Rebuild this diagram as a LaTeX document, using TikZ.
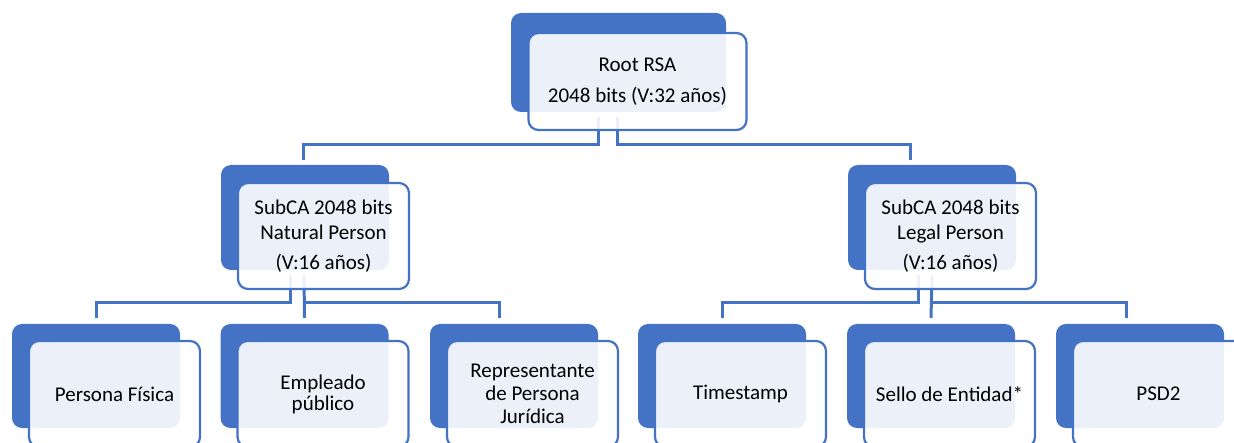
\documentclass[tikz,border=0pt]{standalone}
\usepackage{fontspec}
\setmainfont{Carlito}
\definecolor{cablue}{HTML}{4472C4}
\tikzset{
  backbox/.style={rectangle, rounded corners=10pt, fill=cablue, draw=none, inner sep=0pt},
  frontbox/.style={rectangle, rounded corners=10pt, draw=cablue, line width=2.2pt, fill=white, fill opacity=0.9, text opacity=1, draw opacity=1, inner sep=0pt, align=center, text=black, font=\fontsize{21}{25}\selectfont},
  topback/.style={backbox, minimum width=215pt, minimum height=99pt},
  topfront/.style={frontbox, minimum width=218pt, minimum height=97pt},
  midback/.style={backbox, minimum width=168pt, minimum height=105pt},
  midfront/.style={frontbox, minimum width=171pt, minimum height=106pt},
  lowback/.style={backbox, minimum width=168pt, minimum height=104pt},
  lowfront/.style={frontbox, minimum width=171pt, minimum height=106pt},
  link/.style={draw=cablue, line width=3pt},
}
\begin{document}
\begin{tikzpicture}[x=1pt,y=-1pt]
\clip (0,0) rectangle (1234,443);
\useasboundingbox (0,0) rectangle (1234,443);
% back boxes
\node[topback] (rootB) at (618.5,62.5) {};
\node[midback] (subLB) at (305,217.5) {};
\node[midback] (subRB) at (932,217.5) {};
\node[lowback] (pfB) at (96,376) {};
\node[lowback] (epB) at (304.5,376) {};
\node[lowback] (rpB) at (514,376) {};
\node[lowback] (tsB) at (722,376) {};
\node[lowback] (seB) at (931,376) {};
\node[lowback] (psB) at (1140,376) {};
% connector end points
\coordinate (r1) at ([xshift=-20pt,yshift=-5pt]rootB.south);
\coordinate (r2) at ([xshift=-1pt,yshift=-5pt]rootB.south);
\coordinate (sl1) at ([xshift=-15pt,yshift=-5pt]subLB.south);
\coordinate (sl2) at ([xshift=-1pt,yshift=-5pt]subLB.south);
\coordinate (sr1) at ([xshift=-14pt,yshift=-5pt]subRB.south);
\coordinate (sr2) at ([xshift=0pt,yshift=-5pt]subRB.south);
\coordinate (tL) at ([xshift=-2pt,yshift=5pt]subLB.north);
\coordinate (tR) at ([xshift=-22pt,yshift=5pt]subRB.north);
\coordinate (tpf) at ([yshift=6pt]pfB.north);
\coordinate (tep) at ([yshift=6pt]epB.north);
\coordinate (trp) at ([xshift=-15pt,yshift=6pt]rpB.north);
\coordinate (tts) at ([yshift=6pt]tsB.north);
\coordinate (tse) at ([yshift=6pt]seB.north);
\coordinate (tps) at ([xshift=-14pt,yshift=6pt]psB.north);
% connectors
\draw[link] (r1) -- (r1 |- 0,145) -- (tL |- 0,145) -- (tL);
\draw[link] (r2) -- (r2 |- 0,145) -- (tR |- 0,145) -- (tR);
\draw[link] (sl1) -- (sl1 |- 0,303) -- (tpf |- 0,303) -- (tpf);
\draw[link] (sl2) -- (tep);
\draw[link] (sl2 |- 0,303) -- (trp |- 0,303) -- (trp);
\draw[link] (sr1) -- (sr1 |- 0,303) -- (tts |- 0,303) -- (tts);
\draw[link] (sr2) -- (tse);
\draw[link] (sr2 |- 0,303) -- (tps |- 0,303) -- (tps);
% front boxes
\node[topfront] (rootF) at (637.5,81.5) {Root RSA\\[6pt]2048 bits (V:32 años)};
\node[midfront] (subLF) at (323.5,236) {SubCA 2048 bits\\Natural Person\\[5pt](V:16 años)};
\node[midfront] (subRF) at (950.5,236) {SubCA 2048 bits\\Legal Person\\[5pt](V:16 años)};
\node[lowfront] (pfF) at (114.5,394) {Persona Física};
\node[lowfront, font=\fontsize{21}{21}\selectfont] (epF) at (323,394) {Empleado\\público};
\node[lowfront, font=\fontsize{21}{23}\selectfont] (rpF) at (532.5,394) {Representante\\de Persona\\Jurídica};
\node[lowfront] (tsF) at (740.5,394) {Timestamp};
\node[lowfront] (seF) at (949.5,394) {Sello de Entidad*};
\node[lowfront] (psF) at (1158.5,394) {PSD2};
\end{tikzpicture}
\end{document}
